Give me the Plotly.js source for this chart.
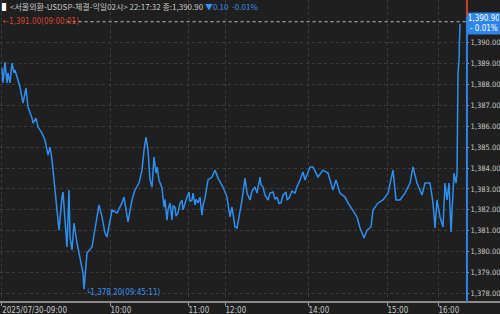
<!DOCTYPE html>
<html>
<head>
<meta charset="utf-8">
<script src="https://cdn.plot.ly/plotly-3.0.1.min.js"></script>
<style>
html,body{margin:0;padding:0;background:#1f1f1f;}
#chart{width:500px;height:314px;}
</style>
</head>
<body>
<div id="chart"></div>
<script>
// tick sequence index (intraday, trade-count based axis)
const seqIndex = [2,3,5,7,8,10,12,14,15,17,20,23,26,28,32,33,36,38,42,45,48,50,52,55,57,59,62,63,65,67,69,70,72,74,77,80,83,84,87,92,95,99,102,105,107,112,117,122,124,127,128,132,135,139,142,144,146,148,150,152,154,156,157,159,162,
  164,165,167,168,170,171,172,173,175,176,178,180,182,183,185,187,189,190,192,193,195,196,198,200,202,203,205,
  208,212,215,218,223,227,230,232,235,237,242,245,247,
  250,252,255,257,260,261,263,265,268,270,273,275,277,279,281,283,286,287,289,292,295,297,300,
  303,305,310,313,318,323,328,333,336,340,345,348,353,357,360,364,367,371,373,378,383,388,393,396,400,405,410,413,417,422,425,430,433,435,437,440,443,445,447,449,451,453,454,456,457,458,459,459.5,460];
const usdKrw = [1388.78,1388.07,1389.07,1388.07,1388.55,1388.07,1389.02,1388.55,1388.69,1388.35,1387.88,1387.11,1387.83,1386.92,1386.39,1386.15,1386.39,1385.96,1385.67,1385.34,1384.62,1385.00,1384.38,1382.95,1381.85,1381.03,1382.61,1382.85,1381.51,1380.22,1382.95,1380.70,1380.08,1381.37,1380.41,1379.60,1378.98,1378.20,1379.93,1380.22,1381.03,1382.23,1381.66,1380.89,1380.70,1381.99,1381.85,1382.33,1382.61,1381.51,1381.42,1382.47,1382.95,1383.28,1383.90,1384.86,1385.48,1384.86,1383.43,1383.09,1384.53,1383.76,1384.05,1383.43,1383.04,
  1382.13,1382.50,1381.51,1382.00,1382.33,1381.70,1381.51,1382.20,1382.13,1381.70,1381.85,1382.30,1382.47,1382.00,1382.33,1382.60,1382.85,1382.40,1382.47,1382.80,1382.23,1382.50,1382.33,1382.60,1381.75,1382.20,1382.56,
  1383.43,1383.57,1383.90,1383.52,1383.09,1382.61,1381.66,1382.13,1381.18,1381.13,1382.47,1383.52,1382.80,
  1382.47,1382.90,1383.09,1382.80,1383.57,1383.20,1383.09,1382.70,1382.47,1382.80,1382.85,1382.50,1382.61,1382.30,1382.33,1382.70,1382.85,1382.50,1382.56,1382.90,1382.80,1383.10,1383.43,
  1383.81,1383.43,1384.05,1384.05,1383.57,1383.90,1383.76,1382.95,1383.43,1382.80,1382.61,1382.33,1381.99,1381.66,1381.13,1380.65,1381.03,1381.18,1381.99,1382.33,1382.47,1382.80,1383.90,1382.47,1382.47,1382.80,1383.28,1384.05,1383.28,1382.71,1383.28,1383.28,1382.33,1381.13,1382.47,1381.66,1381.18,1383.28,1382.47,1383.28,1380.94,1383.09,1383.76,1383.28,1383.76,1388.55,1389.17,1390.12,1390.90];

const xTickPos = [1.7,110,188,225,308,387,438];
const xTickText = ['2025/07/30-09:00','10:00','11:00','12:00','14:00','15:00','16:00'];
const yTicks = [1378,1379,1380,1381,1382,1383,1384,1385,1386,1387,1388,1389,1390];

const openPrice = 1391.00, openTime = '09:00:01';
const lowPrice = 1378.20, lowTime = '09:45:11', lowIndex = 84;
const lastPrice = 1390.90, changeAbs = '0.10', changePct = '-0.01%';

const bg = '#1f1f1f';
const lineBlue = '#2f8ff0';
const txt = '#c8c8c8';
const numFont = 'Liberation Sans Narrow, DejaVu Sans Condensed, Liberation Sans, sans-serif';

const trace = {
  x: seqIndex, y: usdKrw, type: 'scatter', mode: 'lines',
  line: {color: lineBlue, width: 1.5}, hoverinfo: 'skip'
};

const layout = {
  width: 500, height: 314,
  margin: {l: 0, r: 34, t: 0, b: 12},
  paper_bgcolor: bg, plot_bgcolor: bg,
  showlegend: false,
  xaxis: {
    range: [0, 466], tickmode: 'array', tickvals: xTickPos, ticktext: xTickText,
    showgrid: true, gridcolor: '#3c3c3c', griddash: 'dot', gridwidth: 1,
    zeroline: false, showline: false,
    ticks: 'outside', ticklen: 3, tickcolor: '#9a9a9a',
    ticklabelposition: 'outside right',
    tickfont: {family: numFont, size: 8, color: txt}, fixedrange: true
  },
  yaxis: {
    side: 'right', range: [1377.59, 1392.04], tickmode: 'array', tickvals: yTicks,
    tickformat: ',.2f',
    showgrid: true, gridcolor: '#3c3c3c', griddash: 'dot', gridwidth: 1,
    zeroline: false, showline: false,
    ticks: 'outside', ticklen: 2, tickcolor: '#9a9a9a',
    tickfont: {family: numFont, size: 7.5, color: txt}, fixedrange: true
  },
  shapes: [
    {type: 'line', xref: 'paper', yref: 'y', x0: 0.143, x1: 1, y0: openPrice, y1: openPrice,
     line: {color: '#bdbdbd', width: 1, dash: 'dot'}, layer: 'below'},
    {type: 'line', xref: 'paper', yref: 'paper', x0: 0, x1: 1.073, y0: 0, y1: 0,
     line: {color: '#8a8a8a', width: 2}},
    {type: 'line', xref: 'paper', yref: 'paper', x0: 1.002, x1: 1.002, y0: 0, y1: 0.945,
     line: {color: '#2f86e8', width: 2}},
    {type: 'line', xref: 'paper', yref: 'paper', x0: 1.002, x1: 1.002, y0: 0.945, y1: 1,
     line: {color: '#c8402c', width: 2}}
  ],
  annotations: [
    {xref: 'paper', yref: 'paper', x: 0, y: 1, xanchor: 'left', yanchor: 'top', xshift: 0, yshift: 1,
     showarrow: false, align: 'left',
     font: {family: 'Noto Sans CJK KR, sans-serif', size: 8, color: txt},
     text: '<span style="color:#ffffff">▌</span>&lt;서울외환-USDSP-체결-익일02시&gt; 22:17:32 종:1,390.90 <span style="color:#3a8ff0">▼' + changeAbs + '  ' + changePct + '</span>'},
    {xref: 'paper', yref: 'y', x: 0, y: openPrice, xanchor: 'left', yanchor: 'middle', xshift: 1,
     showarrow: false, font: {family: numFont, size: 8, color: '#d8452e'},
     text: '←' + openPrice.toLocaleString('en-US', {minimumFractionDigits: 2}) + '(' + openTime + ')'},
    {xref: 'x', yref: 'y', x: lowIndex, y: lowPrice, xanchor: 'left', yanchor: 'middle', yshift: -3,
     showarrow: false, font: {family: numFont, size: 8, color: '#3a8ff0'},
     text: '└' + lowPrice.toLocaleString('en-US', {minimumFractionDigits: 2}) + '(' + lowTime + ')'},
    {xref: 'paper', yref: 'y', x: 1, y: lastPrice, xanchor: 'left', yanchor: 'middle', xshift: 1,
     showarrow: false, bgcolor: '#2f86e8', borderpad: 1, align: 'center', width: 30,
     font: {family: numFont, size: 8, color: '#ffffff'},
     text: lastPrice.toLocaleString('en-US', {minimumFractionDigits: 2}) + '<br>' + changePct.replace('-', '- ')}
  ]
};

Plotly.newPlot('chart', [trace], layout, {staticPlot: true, displayModeBar: false});
</script>
</body>
</html>
